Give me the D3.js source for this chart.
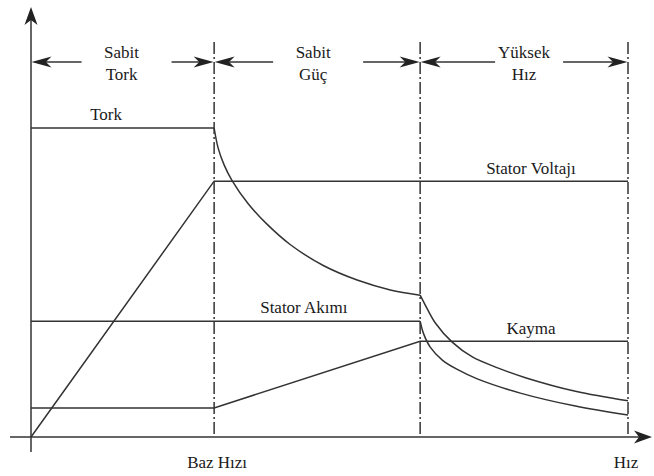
<!DOCTYPE html>
<html>
<head>
<meta charset="utf-8">
<script src="https://cdn.jsdelivr.net/npm/d3@7/dist/d3.min.js"></script>
<style>
  html, body { margin: 0; padding: 0; background: #fff; }
  svg { display: block; }
</style>
</head>
<body>
<svg id="chart" width="654" height="476"></svg>
<script>
// Speed axis: base speed = 1
const speedMarks = [1, 2.125, 3.26];            // base speed, end of constant power, max speed
const regionNames = [["Sabit", "Tork"], ["Sabit", "Güç"], ["Yüksek", "Hız"]];
const axisLabels = ["Baz Hızı", "Hız"];

// Torque: constant, then falling in constant-power and high-speed regions
const torqueSpeed = [0, 1, 1.022, 1.055, 1.098, 1.186, 1.29, 1.415, 1.596, 1.781, 1.962, 2.125,
                     2.153, 2.208, 2.30, 2.41, 2.552, 2.70, 2.973, 3.26];
const torqueValue = [100, 100, 93.5, 88.0, 83.0, 75.5, 68.8, 62.3, 55.5, 50.8, 47.6, 45.9,
                     42.7, 36.9, 30.7, 25.9, 22.3, 19.2, 14.8, 11.7];

// Stator voltage: rises to base speed, then constant
const voltageSpeed = [0, 1, 3.26];
const voltageValue = [0, 82.8, 82.8];

// Stator current: constant, then falls in the high-speed region
const currentSpeed = [0, 2.125, 2.142, 2.18, 2.246, 2.333, 2.437, 2.672, 2.973, 3.26];
const currentValue = [37.5, 37.5, 33.7, 29.1, 24.9, 21.7, 18.8, 14.2, 10.0, 7.1];

// Slip
const slipSpeed = [0, 1, 2.125, 3.26];
const slipValue = [9.4, 9.4, 31.0, 31.0];

// Curve labels
const curveLabels = ["Tork", "Stator Voltajı", "Stator Akımı", "Kayma"];

const FONT = "'Liberation Serif', 'Times New Roman', Times, 'DejaVu Serif', serif";

const svg = d3.select("#chart");
const x = d3.scaleLinear().domain([0, 3.26]).range([31, 628]);
const y = d3.scaleLinear().domain([0, 100]).range([437, 128]);

const ink = "#333";
const lw = 1.5;

// stealth-style arrowhead pointing along angle (radians) with tip at (tx, ty)
function arrowHead(tx, ty, angle, len, half) {
  const c = Math.cos(angle), s = Math.sin(angle);
  const pt = (a, b) => [tx + a * c - b * s, ty + a * s + b * c];
  const p = [pt(0, 0), pt(-len, -half), pt(-len * 0.72, 0), pt(-len, half)];
  svg.append("path")
    .attr("d", "M" + p.map(q => q.join(",")).join("L") + "Z")
    .attr("fill", "#222");
}

function label(xp, yp, t) {
  return svg.append("text").attr("x", xp).attr("y", yp)
    .attr("text-anchor", "middle").attr("font-size", 17)
    .attr("font-family", FONT).attr("fill", "#1a1a1a").text(t);
}

// Axes
const x0 = x(0), yBase = y(0);
svg.append("line").attr("x1", x0).attr("x2", x0).attr("y1", 452).attr("y2", 12)
  .attr("stroke", ink).attr("stroke-width", lw);
arrowHead(x0, 7, -Math.PI / 2, 18, 6.5);
svg.append("line").attr("x1", 10).attr("x2", 646).attr("y1", yBase).attr("y2", yBase)
  .attr("stroke", ink).attr("stroke-width", lw);
arrowHead(652, yBase, 0, 18, 6.5);

// Region boundaries (dash-dot)
speedMarks.forEach(s => {
  svg.append("line")
    .attr("x1", x(s)).attr("x2", x(s)).attr("y1", 42).attr("y2", yBase)
    .attr("stroke", ink).attr("stroke-width", lw)
    .attr("stroke-dasharray", "12,3,2,3");
});

// Region dimension arrows and names
const regionEdges = [0].concat(speedMarks);
const gapHalf = [45, 45, 34];
const arrowY = 62;
regionNames.forEach((name, i) => {
  const a = x(regionEdges[i]), b = x(regionEdges[i + 1]);
  const cx = (a + b) / 2 - (i === 1 ? 4 : 0) - (i === 0 ? 1 : 0);
  const g = gapHalf[i];
  svg.append("line").attr("x1", a + 10).attr("x2", cx + 5 - g).attr("y1", arrowY).attr("y2", arrowY)
    .attr("stroke", ink).attr("stroke-width", lw);
  svg.append("line").attr("x1", cx + 5 + g).attr("x2", b - 10).attr("y1", arrowY).attr("y2", arrowY)
    .attr("stroke", ink).attr("stroke-width", lw);
  arrowHead(a + 0.5, arrowY, Math.PI, 20, 5.5);
  arrowHead(b - 0.5, arrowY, 0, 20, 5.5);
  label(cx, 58, name[0]);
  label(cx, 80, name[1]);
});

// Curves
const line = d3.line().x(d => x(d[0])).y(d => y(d[1]));
const curved = d3.line().x(d => x(d[0])).y(d => y(d[1])).curve(d3.curveCatmullRom.alpha(0.5));

function drawSeries(sp, val, gen) {
  svg.append("path")
    .attr("d", gen(sp.map((s, i) => [s, val[i]])))
    .attr("fill", "none").attr("stroke", ink).attr("stroke-width", lw);
}
// torque: flat part straight, falling part smooth
const tk = torqueSpeed.indexOf(1);
drawSeries(torqueSpeed.slice(0, tk + 1), torqueValue.slice(0, tk + 1), line);
const tj = torqueSpeed.indexOf(2.125);
drawSeries(torqueSpeed.slice(tk, tj + 1), torqueValue.slice(tk, tj + 1), curved);
drawSeries(torqueSpeed.slice(tj), torqueValue.slice(tj), curved);
drawSeries(voltageSpeed, voltageValue, line);
const ck = currentSpeed.indexOf(2.125);
drawSeries(currentSpeed.slice(0, ck + 1), currentValue.slice(0, ck + 1), line);
drawSeries(currentSpeed.slice(ck), currentValue.slice(ck), curved);
drawSeries(slipSpeed, slipValue, line);

// Curve labels
const labelPos = [
  [x(0.41), y(102.5)],
  [x(2.73), y(85.2)],
  [x(1.49), y(40.1)],
  [x(2.73), y(33.3)]
];
curveLabels.forEach((t, i) => label(labelPos[i][0], labelPos[i][1], t));

// Axis labels
label(x(speedMarks[0]) + 3, 468, axisLabels[0]);
label(x(speedMarks[2]) - 2, 468, axisLabels[1]);
</script>
</body>
</html>
